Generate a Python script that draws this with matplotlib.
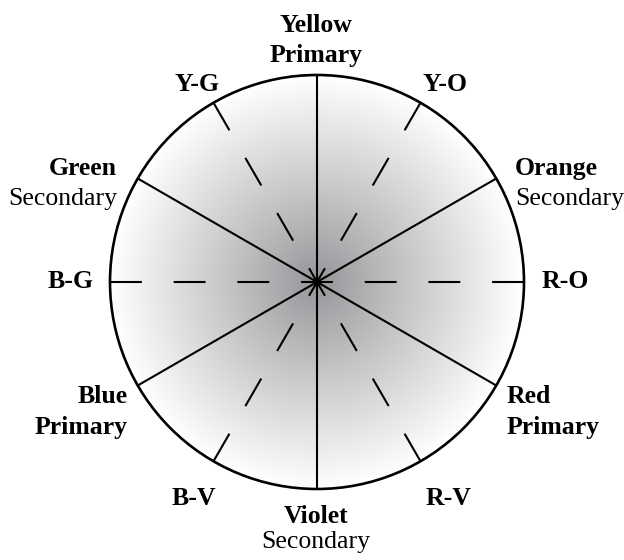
import numpy as np
import matplotlib.pyplot as plt
from matplotlib.patches import Circle

plt.rcParams['font.family'] = ['Liberation Serif', 'DejaVu Serif']
plt.rcParams['lines.scale_dashes'] = False

W, H = 624, 560
cx, cy, R = 317, 282, 207

# diameters of the wheel (degrees, counter-clockwise from the right)
solid_angles = [30, 90, 150]     # primary / secondary spokes
dashed_angles = [0, 60, 120]     # tertiary spokes

# label lines: text, x, baseline y, horizontal align, weight
label_lines = [
    ('Yellow',    316,  32, 'center', 'bold'),
    ('Primary',   316,  62, 'center', 'bold'),
    ('Y-G',       197,  91, 'center', 'bold'),
    ('Y-O',       445,  91, 'center', 'bold'),
    ('Green',     117, 175, 'right',  'bold'),
    ('Secondary', 117, 205, 'right',  'normal'),
    ('Orange',    515, 175, 'left',   'bold'),
    ('Secondary', 515, 205, 'left',   'normal'),
    ('B-G',        94, 288, 'right',  'bold'),
    ('R-O',       542, 288, 'left',   'bold'),
    ('Blue',      128, 403, 'right',  'bold'),
    ('Primary',   128, 434, 'right',  'bold'),
    ('Red',       507, 403, 'left',   'bold'),
    ('Primary',   507, 434, 'left',   'bold'),
    ('B-V',       194, 505, 'center', 'bold'),
    ('R-V',       448, 505, 'center', 'bold'),
    ('Violet',    316, 523, 'center', 'bold'),
    ('Secondary', 316, 548, 'center', 'normal'),
]

fig = plt.figure(figsize=(W / 100, H / 100), dpi=100)
ax = fig.add_axes([0, 0, 1, 1])
ax.set_xlim(0, W)
ax.set_ylim(H, 0)
ax.axis('off')

# radial grey shading, dark in the middle, white at the rim
n = 400
xx, yy = np.meshgrid(np.linspace(-1, 1, n), np.linspace(-1, 1, n))
t = np.clip(np.hypot(xx, yy), 0, 1)
v = 0.585 + 0.415 * t ** 0.95
img = np.dstack([v, v, np.clip(v + 0.015 * (1 - t), 0, 1)])
circ = Circle((cx, cy), R, facecolor='none', edgecolor='black', lw=1.9, zorder=3)
ax.add_patch(circ)
im = ax.imshow(img, extent=(cx - R, cx + R, cy + R, cy - R), zorder=1,
               interpolation='bilinear')
im.set_clip_path(circ)

seg = 2 * R / 13 * 72 / 100  # dash length in points: 6.5 on/off periods across
for a in solid_angles + dashed_angles:
    dx, dy = R * np.cos(np.radians(a)), -R * np.sin(np.radians(a))
    kw = dict(color='black', lw=1.5, zorder=2, solid_capstyle='butt')
    if a in dashed_angles:
        kw['dashes'] = (seg, seg)
        kw['dash_capstyle'] = 'butt'
    ax.plot([cx + dx, cx - dx], [cy + dy, cy - dy], **kw)

for txt, x, y, ha, wt in label_lines:
    ax.text(x, y, txt, ha=ha, va='baseline', fontsize=18.5, fontweight=wt,
            color='black')

fig.savefig('out.png', dpi=100)
